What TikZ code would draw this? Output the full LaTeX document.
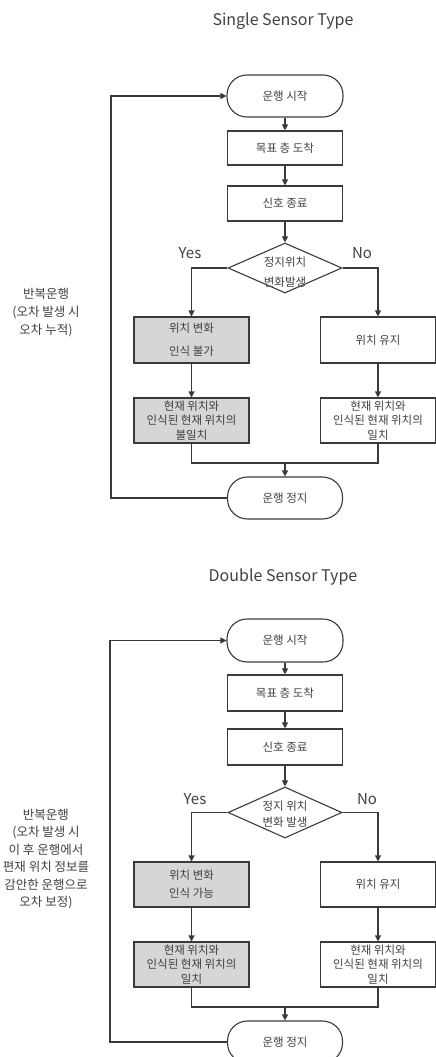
\documentclass[tikz,border=0pt]{standalone}
\usepackage{fontspec}
\setmainfont{Noto Sans CJK KR}
\usetikzlibrary{shapes.geometric,arrows.meta}
\definecolor{linec}{HTML}{3A3A3A}
\definecolor{textc}{HTML}{404040}
\definecolor{grayc}{HTML}{D6D6D6}
\tikzset{
  base/.style={draw=linec, line width=1.1pt, text=textc, align=center, inner sep=1pt,
    font=\fontsize{11.5}{14.5}\selectfont},
  procbox/.style={base, rectangle, minimum width=115pt, minimum height=35pt},
  graybox/.style={procbox, fill=grayc},
  term/.style={base, rectangle, rounded corners=20pt, minimum width=116pt, minimum height=42pt},
  decis/.style={draw=linec, line width=1.1pt, diamond, minimum width=114pt, minimum height=50pt, inner sep=0pt},
  flow/.style={draw=linec, line width=1.1pt, -{Triangle[length=6pt,width=6pt]}},
  link/.style={draw=linec, line width=1.1pt},
  lbl/.style={text=textc, align=center, inner sep=0pt},
  titlelbl/.style={lbl, font=\fontsize{16}{18}\selectfont},
  yn/.style={lbl, font=\fontsize{15}{16}\selectfont},
  side/.style={lbl, font=\fontsize{12.5}{18}\selectfont},
}
\begin{document}
\begin{tikzpicture}[x=1pt,y=-1pt]
\useasboundingbox (0,0) rectangle (436,1057);

% ---------------- Single Sensor Type ----------------
\node[titlelbl] (title1) at (283,21) {Single Sensor Type};
\node[term] (start1) at (285,96) {운행 시작};
\node[procbox, minimum height=34pt] (box1a) at (285,148) {목표 층 도착};
\node[procbox] (box1b) at (285,203.5) {신호 종료};
\node[decis] (dia1) at (285,268) {};
\node[lbl, font=\fontsize{11.5}{20}\selectfont] (dt1) at (285,272) {정지위치\\변화발생};
\node[yn] (yes1) at (190,253) {Yes};
\node[yn] (no1) at (362,253) {No};
\node[graybox, minimum height=46pt, font=\fontsize{11.5}{23}\selectfont] (g1a) at (191.5,340) {위치 변화\\인식 불가};
\node[procbox, minimum height=46pt] (w1a) at (378,340) {위치 유지};
\node[graybox, minimum height=45pt] (g1b) at (191.5,420.5) {현재 위치와\\인식된 현재 위치의\\불일치};
\node[procbox, minimum height=45pt] (w1b) at (378,420.5) {현재 위치와\\인식된 현재 위치의\\일치};
\node[term, minimum width=115pt] (stop1) at (285,498) {운행 정지};
\node[side] (side1) at (46,313) {반복운행\\(오차 발생 시\\오차 누적)};
\coordinate (m1) at (285,463);
\coordinate (loop1) at (111,300);

\draw[flow] (start1) -- (box1a);
\draw[flow] (box1a) -- (box1b);
\draw[flow] (box1b) -- (dia1);
\draw[flow] (dia1.west) -| (g1a.north);
\draw[flow] (dia1.east) -| (w1a.north);
\draw[flow] (g1a) -- (g1b);
\draw[flow] (w1a) -- (w1b);
\draw[link] (g1b.south) |- (m1) -| (w1b.south);
\draw[flow] (m1) -- (stop1.north);
\draw[flow] (stop1.west) -- (stop1.west -| loop1) |- (start1.west);

% ---------------- Double Sensor Type ----------------
\node[titlelbl] (title2) at (283,577) {Double Sensor Type};
\node[term, minimum height=43pt] (start2) at (285,640.5) {운행 시작};
\node[procbox, minimum height=36pt] (box2a) at (285,693) {목표 층 도착};
\node[procbox, minimum height=36pt] (box2b) at (285,747) {신호 종료};
\node[decis, minimum height=51pt] (dia2) at (285,812.5) {};
\node[lbl, font=\fontsize{11.5}{16}\selectfont] (dt2) at (285,814.5) {정지 위치\\변화 발생};
\node[yn] (yes2) at (195,799) {Yes};
\node[yn] (no2) at (367,799) {No};
\node[graybox, minimum height=45pt, font=\fontsize{11.5}{18}\selectfont] (g2a) at (191.5,884.5) {위치 변화\\인식 가능};
\node[procbox, minimum height=45pt] (w2a) at (378,884.5) {위치 유지};
\node[graybox, minimum height=45pt] (g2b) at (191.5,964.5) {현재 위치와\\인식된 현재 위치의\\일치};
\node[procbox, minimum height=45pt] (w2b) at (378,964.5) {현재 위치와\\인식된 현재 위치의\\일치};
\node[term, minimum width=115pt] (stop2) at (285,1042) {운행 정지};
\node[side, font=\fontsize{12.5}{17.5}\selectfont] (side2) at (46,859) {반복운행\\(오차 발생 시\\이 후 운행에서\\편재 위치 정보를\\감안한 운행으로\\오차 보정)};
\coordinate (m2) at (285,1007);
\coordinate (loop2) at (110,850);

\draw[flow] (start2) -- (box2a);
\draw[flow] (box2a) -- (box2b);
\draw[flow] (box2b) -- (dia2);
\draw[flow] (dia2.west) -| (g2a.north);
\draw[flow] (dia2.east) -| (w2a.north);
\draw[flow] (g2a) -- (g2b);
\draw[flow] (w2a) -- (w2b);
\draw[link] (g2b.south) |- (m2) -| (w2b.south);
\draw[flow] (m2) -- (stop2.north);
\draw[flow] (stop2.west) -- (stop2.west -| loop2) |- (start2.west);
\end{tikzpicture}
\end{document}
